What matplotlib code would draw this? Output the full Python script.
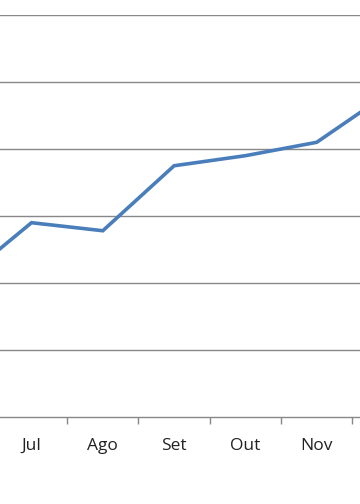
import matplotlib
matplotlib.use("Agg")
import matplotlib.pyplot as plt
from matplotlib.ticker import FixedLocator

months = ["Jun", "Jul", "Ago", "Set", "Out", "Nov", "Dez"]
values = [2.02, 2.90, 2.78, 3.75, 3.90, 4.10, 4.83]
grid_values = [1, 2, 3, 4, 5, 6]

W, H = 360, 504
fig = plt.figure(figsize=(W / 100, H / 100), dpi=100)

# axes geometry in pixels (axes extends beyond the cropped figure)
step = 71.3
x_first = 31.5 - 1.5 * step  # left edge for xlim -0.5
width_px = 7 * step
bottom_px = 417
top_px = 15
ax = fig.add_axes([x_first / W, (H - bottom_px) / H, width_px / W, (bottom_px - top_px) / H])

xs = list(range(len(months)))
ax.plot(xs, values, color="#4A7EBB", lw=2.6, solid_joinstyle="miter", zorder=3)

ax.set_xlim(-0.5, len(months) - 0.5)
ax.set_ylim(0, 6)

for g in grid_values:
    ax.axhline(g, color="#888888", lw=1.0, zorder=1)

for s in ["top", "left", "right"]:
    ax.spines[s].set_visible(False)
ax.spines["bottom"].set_color("#888888")
ax.spines["bottom"].set_linewidth(1.0)

ax.set_xticks(xs)
labels = ax.set_xticklabels(months, fontsize=12.5, family="Open Sans", color="#222222")
# the first and last months fall outside the cropped view
labels[0].set_visible(False)
labels[-1].set_visible(False)
ax.xaxis.set_minor_locator(FixedLocator([i + 0.5 for i in range(-1, len(months))]))
ax.tick_params(axis="x", which="major", length=0, pad=15)
ax.tick_params(axis="x", which="minor", length=5, width=1.0, color="#888888", direction="out")
ax.set_yticks([])

fig.savefig("out.png", dpi=100)
